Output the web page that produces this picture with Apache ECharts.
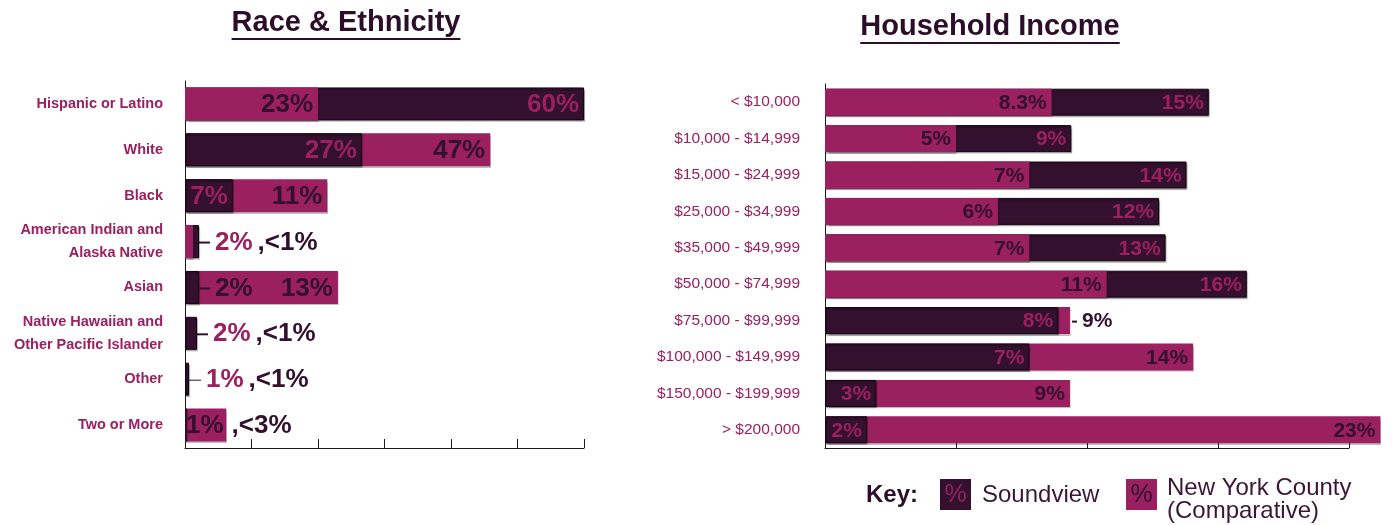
<!DOCTYPE html>
<html>
<head>
<meta charset="utf-8">
<script src="https://cdn.jsdelivr.net/npm/echarts@6/dist/echarts.min.js"></script>
<style>
  html, body { margin: 0; padding: 0; background: #ffffff; }
  #chart { width: 1396px; height: 525px; }
</style>
</head>
<body>
<div id="chart"></div>
<script>
// Race & Ethnicity (bar lengths, 10 units per tick)
const raceCategories = ['Hispanic or Latino', 'White', 'Black', 'American Indian and\nAlaska Native', 'Asian',
  'Native Hawaiian and\nOther Pacific Islander', 'Other', 'Two or More']
const raceSoundview = [60, 26.6, 7.2, 2.1, 2.1, 1.8, 0.6, 0.3]
const raceNyc = [20, 45.9, 21.4, 1.2, 23, 0, 0, 6.2]
const raceSoundviewText = ['60%', '27%', '7%', '2%', '2%', '2%', '1%', '<3%']
const raceNycText = ['23%', '47%', '11%', '<1%', '13%', '<1%', '<1%', '1%']

// Household Income (5 units per tick)
const incomeCategories = ['< $10,000', '$10,000 - $14,999', '$15,000 - $24,999', '$25,000 - $34,999',
  '$35,000 - $49,999', '$50,000 - $74,999', '$75,000 - $99,999', '$100,000 - $149,999',
  '$150,000 - $199,999', '> $200,000']
const incomeSoundview = [14.65, 9.4, 13.8, 12.75, 13.0, 16.1, 8.9, 7.8, 1.95, 1.6]
const incomeNyc = [8.65, 5.0, 7.8, 6.6, 7.8, 10.75, 9.35, 14.05, 9.35, 21.2]
const incomeSoundviewText = ['15%', '9%', '14%', '12%', '13%', '16%', '8%', '7%', '3%', '2%']
const incomeNycText = ['8.3%', '5%', '7%', '6%', '7%', '11%', '9%', '14%', '9%', '23%']

// how each row places its labels
const raceModes = ['in', 'in', 'in', 'pair', 'tick', 'pair', 'pairThin', 'split']
const incomeModes = ['in', 'in', 'in', 'in', 'in', 'in', 'tickBack', 'in', 'in', 'in']

const DARK = '#32102e'
const PINK = '#9b2060'
const EDGE = '#14040f'
const FONT = '"Liberation Sans", Arial, sans-serif'

function buildSeries(axisIndex, sv, ny, svText, nyText, modes, fontSize, barWidth, dist) {
  const back = []
  const front = []
  const txt = (color, extra) => Object.assign({ color, fontSize, fontWeight: 'bold', fontFamily: FONT }, extra || {})
  const rich = {
    tick: { width: 11, height: 2, backgroundColor: DARK },
    thin: { width: 12, height: 1, backgroundColor: DARK },
    hy: { width: 5, height: 2, backgroundColor: DARK },
    p: txt(PINK, { padding: [0, 0, 0, 5] }),
    d: txt(DARK, { padding: [0, 0, 0, 5] }),
    d0: txt(DARK),
    c: txt(DARK, { padding: [0, 0, 0, 8] })
  }
  sv.forEach((s, i) => {
    const n = ny[i]
    const svItem = {
      value: s,
      itemStyle: { color: DARK, borderColor: EDGE, borderWidth: s > 0.5 ? 1 : 0 },
      label: { show: true, position: 'insideRight', distance: dist, color: PINK, formatter: svText[i] }
    }
    const nyItem = {
      value: n,
      itemStyle: { color: PINK },
      label: { show: true, position: 'insideRight', distance: dist, color: DARK, formatter: nyText[i] }
    }
    const svBack = s >= n
    const b = svBack ? svItem : nyItem
    const f = svBack ? nyItem : svItem
    const mode = modes[i]
    if (mode === 'pair' || mode === 'pairThin') {
      f.label.show = false
      b.label = {
        show: true, position: 'right', distance: 0, rich,
        formatter: '{' + (mode === 'pair' ? 'tick' : 'thin') + '|}{p|' + svText[i] + '}{d|,' + nyText[i] + '}'
      }
    } else if (mode === 'tick') {
      f.label = { show: true, position: 'right', distance: 0, rich, formatter: '{tick|}{d|' + (svBack ? nyText[i] : svText[i]) + '}' }
    } else if (mode === 'split') {
      f.label.show = false
      b.label = { show: true, position: 'insideLeft', distance: 1, rich, formatter: '{d0|' + nyText[i] + '}{c|,' + svText[i] + '}' }
    } else if (mode === 'tickBack') {
      b.label = { show: true, position: 'right', distance: 2, rich, formatter: '{hy|}{d|' + (svBack ? svText[i] : nyText[i]) + '}' }
    }
    back.push(b)
    front.push(f)
  })
  const common = {
    type: 'bar',
    xAxisIndex: axisIndex,
    yAxisIndex: axisIndex,
    barWidth,
    barGap: '-100%',
    clip: false,
    label: { fontSize, fontWeight: 'bold', fontFamily: FONT, offset: [0, 1] },
    itemStyle: { shadowColor: 'rgba(0,0,0,0.25)', shadowOffsetX: 1, shadowOffsetY: 1.5, shadowBlur: 1 }
  }
  return [
    Object.assign({ name: 'back' + axisIndex, z: 2, data: back }, common),
    Object.assign({ name: 'front' + axisIndex, z: 3, data: front }, common)
  ]
}

// underlined titles
const measure = document.createElement('canvas').getContext('2d')
function title(text, cx, cy, underlineY) {
  const font = 'bold 29px ' + FONT
  measure.font = font
  const w = measure.measureText(text).width
  return [
    { type: 'text', style: { text, x: cx, y: cy, font, fill: '#2d0e2a', align: 'center', verticalAlign: 'middle' } },
    { type: 'rect', shape: { x: cx - w / 2, y: underlineY, width: w, height: 2 }, style: { fill: '#2d0e2a' } }
  ]
}

const axisLine = { show: true, lineStyle: { color: '#1a1a1a', width: 1 } }

const chart = echarts.init(document.getElementById('chart'))
chart.setOption({
  backgroundColor: '#ffffff',
  animation: false,
  grid: [
    { left: 185, right: 812, top: 81, bottom: 77 },
    { left: 825, right: 47, top: 84, bottom: 77 }
  ],
  xAxis: [
    {
      gridIndex: 0, type: 'value', min: 0, max: 60, interval: 10,
      axisLine, axisTick: { show: true, inside: true, length: 9, lineStyle: { color: '#1a1a1a' } },
      axisLabel: { show: false }, splitLine: { show: false }
    },
    {
      gridIndex: 1, type: 'value', min: 0, max: 20, interval: 5,
      axisLine, axisTick: { show: true, inside: true, length: 9, lineStyle: { color: '#1a1a1a' } },
      axisLabel: { show: false }, splitLine: { show: false }
    }
  ],
  yAxis: [
    {
      gridIndex: 0, type: 'category', inverse: true, data: raceCategories,
      axisLine, axisTick: { show: false },
      axisLabel: { color: PINK, fontWeight: 'bold', fontSize: 14.5, lineHeight: 23, margin: 22, fontFamily: FONT }
    },
    {
      gridIndex: 1, type: 'category', inverse: true, data: incomeCategories,
      axisLine, axisTick: { show: false },
      axisLabel: { color: PINK, fontSize: 15.5, margin: 25, fontFamily: FONT }
    }
  ],
  series: [
    ...buildSeries(0, raceSoundview, raceNyc, raceSoundviewText, raceNycText, raceModes, 26, 33, 5),
    ...buildSeries(1, incomeSoundview, incomeNyc, incomeSoundviewText, incomeNycText, incomeModes, 21, 27, 5)
  ],
  graphic: [
    ...title('Race & Ethnicity', 346, 23, 38),
    ...title('Household Income', 990, 27, 42),
    // key
    { type: 'text', style: { text: 'Key:', x: 866, y: 495, font: 'bold 24px ' + FONT, fill: '#2d0e2a', verticalAlign: 'middle' } },
    { type: 'rect', shape: { x: 940, y: 479, width: 31, height: 31 }, style: { fill: DARK } },
    { type: 'text', style: { text: '%', x: 955.5, y: 495, font: '25px ' + FONT, fill: PINK, align: 'center', verticalAlign: 'middle' } },
    { type: 'text', style: { text: 'Soundview', x: 982, y: 495, font: '24px ' + FONT, fill: '#3a1737', verticalAlign: 'middle' } },
    { type: 'rect', shape: { x: 1126, y: 479, width: 31, height: 31 }, style: { fill: PINK } },
    { type: 'text', style: { text: '%', x: 1141.5, y: 495, font: '25px ' + FONT, fill: DARK, align: 'center', verticalAlign: 'middle' } },
    {
      type: 'text',
      style: { text: 'New York County\n(Comparative)', x: 1167, y: 477, font: '24px ' + FONT, lineHeight: 23, fill: '#3a1737', verticalAlign: 'top' }
    }
  ]
})
</script>
</body>
</html>
